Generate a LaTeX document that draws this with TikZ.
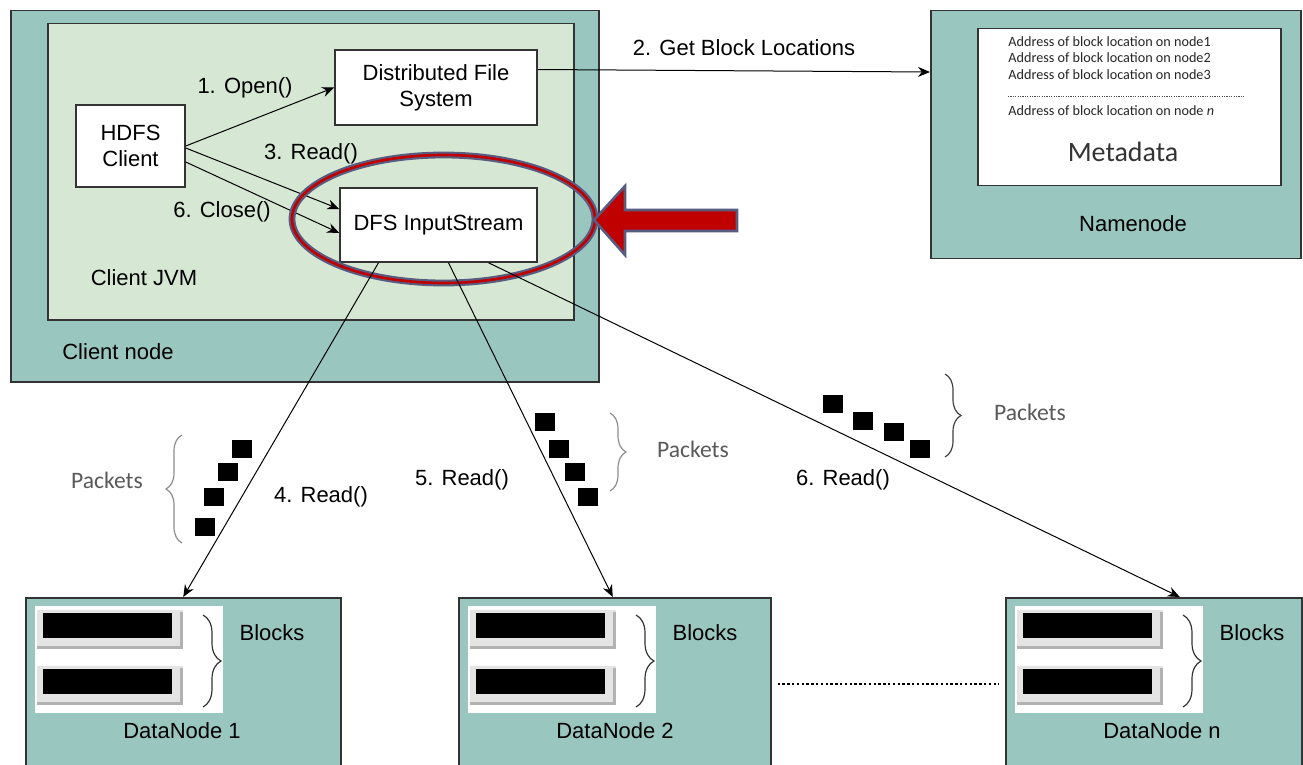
\documentclass[tikz,border=0pt]{standalone}
\usepackage{fontspec}
\setmainfont{Liberation Sans}
\newfontfamily\calfont{Carlito}
\usetikzlibrary{arrows.meta,decorations.pathreplacing}
\definecolor{teal1}{RGB}{153,199,192}
\definecolor{jvm}{RGB}{214,232,212}
\definecolor{ringblue}{RGB}{88,92,128}
\definecolor{ringred}{RGB}{192,0,0}
\definecolor{shadowgray}{RGB}{228,228,228}
\definecolor{bracegray}{RGB}{140,140,140}
\definecolor{pktgray}{RGB}{90,90,90}
\begin{document}
\begin{tikzpicture}[x=0.5pt,y=-0.5pt,
  lbl/.style={font=\fontsize{11}{13}\selectfont, inner sep=0pt},
  area/.style={draw=black!80, line width=0.75pt, anchor=north west, inner sep=0pt},
  wbox/.style={draw=black!80, fill=white, line width=0.75pt, align=center, font=\fontsize{11}{13}\selectfont, inner sep=0pt},
  conn/.style={-{Stealth[length=6pt,width=5pt]}, line width=0.5pt},
  pkt/.style={fill=black, minimum width=10pt, minimum height=9pt, inner sep=0pt},
  addr/.style={font=\calfont\fontsize{7.1}{8}\selectfont, text=black!85, anchor=west, inner sep=0pt},
  pktlbl/.style={font=\calfont\fontsize{11.8}{13}\selectfont, text=pktgray, inner sep=0pt},
  bracel/.style={decorate, decoration={brace, amplitude=#1}, line width=0.6pt},
]
\clip (0,0) rectangle (1303,765);
\fill[white] (0,0) rectangle (1303,765);

% Client node
\node[area, fill=teal1, minimum width=294pt, minimum height=185.5pt] (cnode) at (10,10) {};
\node[area, fill=jvm, minimum width=263pt, minimum height=148pt] (cjvm) at (47,23) {};
\node[lbl] (cnodelbl) at (118,352) {Client node};
\node[lbl] (cjvmlbl) at (144,278) {Client JVM};

\node[wbox, minimum width=54.5pt, minimum height=41pt] (hdfs) at (130.5,146) {HDFS\\Client};
\node[wbox, minimum width=101pt, minimum height=37.5pt] (dfs) at (436,87.5) {Distributed File\\System};
\node[wbox, minimum width=98.5pt, minimum height=37pt] (isr) at (438.5,225) {DFS InputStream};

\draw[conn] (hdfs.east) -- (dfs.west);
\draw[conn] ([yshift=-1pt]hdfs.east) -- ([yshift=8pt]isr.west);
\draw[conn] ([yshift=-8pt]hdfs.east) -- ([yshift=-4pt]isr.west);
\node[lbl] (l1) at (245,88) {1. Open()};
\node[lbl] (l3) at (311,154) {3. Read()};
\node[lbl] (l6) at (222,212) {6. Close()};

% Highlight ellipse and arrow
\draw[ringblue, line width=3.4pt] (443.5,219) ellipse [x radius=75.75pt, y radius=32pt];
\draw[ringred, line width=1.3pt] (443.5,219) ellipse [x radius=75.75pt, y radius=32pt];
\draw[ringblue, fill=ringred, line width=1.3pt, line join=miter]
  (594,220) -- (625,186) -- (625,210) -- (737,210) -- (737,231) -- (625,231) -- (625,255) -- cycle;

% Namenode
\node[area, fill=teal1, minimum width=185pt, minimum height=124pt] (nn) at (930,10) {};
\node[area, fill=white, minimum width=151.5pt, minimum height=78.5pt] (meta) at (977,28) {};
\node[addr] (a1) at (1008,42) {Address of block location on node1};
\node[addr] (a2) at (1008,58) {Address of block location on node2};
\node[addr] (a3) at (1008,75) {Address of block location on node3};
\draw[black!70, line width=0.4pt, dash pattern=on 0.6pt off 0.6pt] (1008,96) -- (1245,96);
\node[addr] (an) at (1008,111) {Address of block location on node \textit{n}};
\node[font=\calfont\fontsize{14}{16}\selectfont, text=black!80, inner sep=0pt] (metalbl) at (1123,152) {Metadata};
\node[lbl] (nnlbl) at (1133,224) {Namenode};

\draw[conn] ([yshift=9pt]dfs.east) -- ([yshift=-31pt]nn.north west);
\node[lbl] (l2) at (744,48) {2. Get Block Locations};

% DataNodes
\foreach \i/\off/\w/\lab in {1/0/157.5/DataNode 1, 2/433/156/DataNode 2, n/980/148/DataNode n}{
  \begin{scope}[shift={(\off,0)}]
    \node[area, fill=teal1, minimum width=\w pt, minimum height=86.5pt] (dn\i) at (25,597) {};
    \node[fill=white, anchor=north west, inner sep=0pt, minimum width=94pt, minimum height=53.5pt] (wb\i) at (35,606) {};
    \fill[shadowgray] (37,610) rectangle (183,649);
    \draw[black!30, line width=1.2pt] (37,647.5) -- (183,647.5) (181.5,612) -- (181.5,647.5);
    \fill[black] (43,613) rectangle (172,638);
    \fill[shadowgray] (37,666) rectangle (183,705);
    \draw[black!30, line width=1.2pt] (37,703.5) -- (183,703.5) (181.5,668) -- (181.5,703.5);
    \fill[black] (43,669) rectangle (172,694);
    \draw[bracel=9pt, black!80] (203,615) -- (203,707);
    \node[lbl] (bl\i) at (272,633) {Blocks};
    \node[lbl] (dnl\i) at (182,731) {\lab};
  \end{scope}
}
\draw[line width=1pt, dash pattern=on 1.2pt off 1.2pt] ([xshift=3pt]dn2.east |- 0,684) -- ([xshift=-3pt]dnn.west |- 0,684);

% Read arrows
\draw[conn] ([xshift=-30pt]isr.south) -- (dn1.north);
\draw[conn] ([xshift=5pt]isr.south) -- ([xshift=-1pt]dn2.north);
\draw[conn] ([xshift=25pt]isr.south) -- ([xshift=13pt]dnn.north);
\node[lbl] (l4) at (321,497) {4. Read()};
\node[lbl] (l5) at (462,480) {5. Read()};
\node[lbl] (l6r) at (843,480) {6. Read()};

% Packets group 1
\node[pkt] (p11) at (242,449) {};
\node[pkt] (p12) at (228,472) {};
\node[pkt] (p13) at (214,497) {};
\node[pkt] (p14) at (205,527) {};
\draw[bracel=8pt, bracegray] (182,543) -- (182,435);
\node[pktlbl] (pk1) at (107,480) {Packets};
% Packets group 2
\node[pkt] (p21) at (545,422) {};
\node[pkt] (p22) at (559,449) {};
\node[pkt] (p23) at (575,472) {};
\node[pkt] (p24) at (588,497) {};
\draw[bracel=8pt, bracegray] (610,413) -- (610,491);
\node[pktlbl] (pk2) at (693,449) {Packets};
% Packets group 3
\node[pkt] (p31) at (833,404) {};
\node[pkt] (p32) at (863,421) {};
\node[pkt] (p33) at (894,432) {};
\node[pkt] (p34) at (920,449) {};
\draw[bracel=8pt, black!75] (945,374) -- (945,457);
\node[pktlbl] (pk3) at (1030,412) {Packets};
\end{tikzpicture}
\end{document}
